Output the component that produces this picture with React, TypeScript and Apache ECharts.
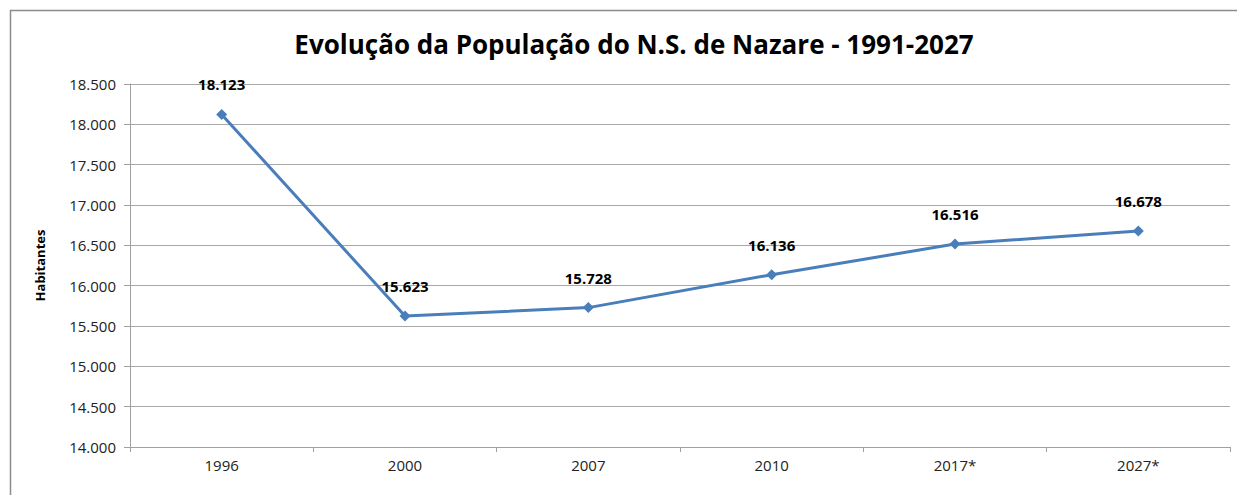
import React, { useEffect, useRef } from "react";
import * as echarts from "echarts";

const categories = ["1996", "2000", "2007", "2010", "2017*", "2027*"];
const population = [18123, 15623, 15728, 16136, 16516, 16678];
const titleText = "Evolução da População do N.S. de Nazare - 1991-2027";
const yAxisName = "Habitantes";

const fmt = (v: number) => {
  const s = Math.round(v).toString();
  return s.replace(/\B(?=(\d{3})+(?!\d))/g, ".");
};

export default function App() {
  const ref = useRef<HTMLDivElement>(null);
  useEffect(() => {
    if (!ref.current) return;
    const chart = echarts.init(ref.current, null, { renderer: "svg" });
    const font = "'Open Sans', 'Noto Sans', sans-serif";
    chart.setOption({
      animation: false,
      backgroundColor: "#ffffff",
      title: {
        text: titleText,
        left: 629,
        textAlign: "center",
        top: 26,
        textStyle: { fontFamily: font, fontSize: 26, fontWeight: "bold", color: "#000" },
      },
      graphic: [
        {
          type: "rect",
          shape: { x: 10.5, y: 10.5, width: 1240, height: 500 },
          style: { fill: "none", stroke: "#8c8c8c", lineWidth: 1.5 },
          silent: true,
        },
      ],
      grid: { left: 130, top: 84, right: 7, bottom: 48 },
      xAxis: {
        type: "category",
        data: categories,
        boundaryGap: true,
        axisLine: { lineStyle: { color: "#a0a0a0", width: 1 } },
        axisTick: { show: true, length: 5, lineStyle: { color: "#a0a0a0" } },
        axisLabel: { fontFamily: font, fontSize: 15, color: "#222", margin: 10 },
        splitLine: { show: false },
      },
      yAxis: {
        type: "value",
        min: 14000,
        max: 18500,
        interval: 500,
        name: yAxisName,
        nameLocation: "middle",
        nameGap: 84,
        nameRotate: 90,
        nameTextStyle: { fontFamily: font, fontSize: 13, fontWeight: "bold", color: "#000" },
        axisLine: { show: true, lineStyle: { color: "#a0a0a0" } },
        axisTick: { show: true, length: 6, lineStyle: { color: "#a0a0a0" } },
        axisLabel: { fontFamily: font, fontSize: 15, color: "#222", margin: 14, formatter: (v: number) => fmt(v) },
        splitLine: { show: true, lineStyle: { color: "#a8a8a8", width: 1 } },
      },
      series: [
        {
          type: "line",
          data: population,
          symbol: "diamond",
          symbolSize: 11,
          lineStyle: { color: "#4a7ebb", width: 3 },
          itemStyle: { color: "#4a7ebb" },
          label: {
            show: true,
            position: "top",
            distance: 17,
            fontFamily: font,
            fontSize: 15,
            fontWeight: "bold",
            color: "#000",
            formatter: (p: any) => fmt(p.value),
          },
        },
      ],
    });
    return () => chart.dispose();
  }, []);
  return (
    <div
      ref={ref}
      style={{ position: "absolute", left: 0, top: 0, width: 1237, height: 495 }}
    />
  );
}
